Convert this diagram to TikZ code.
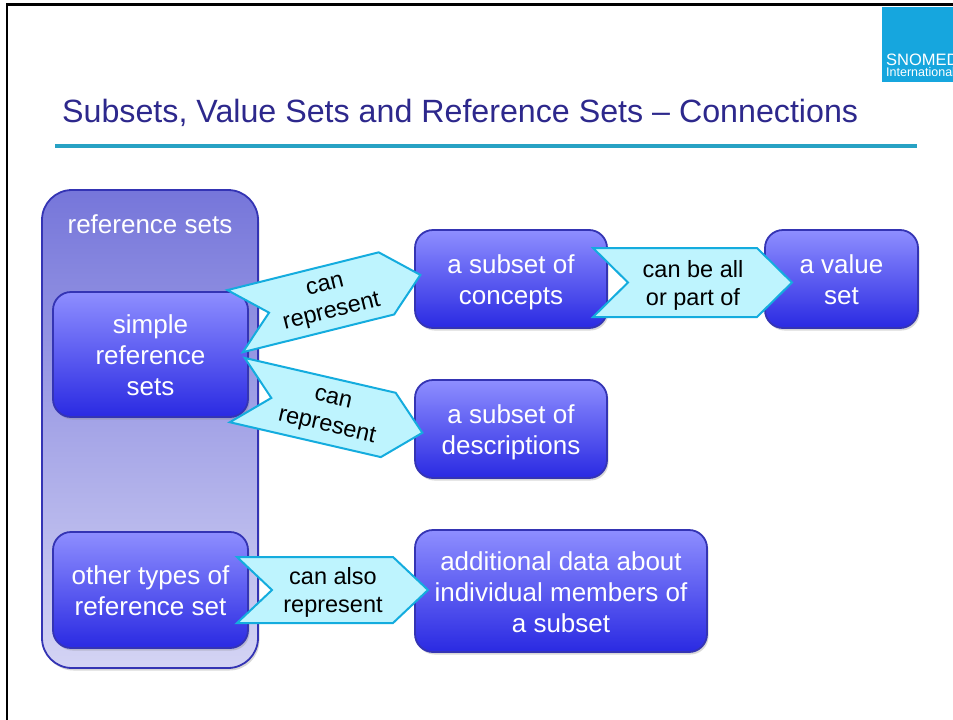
\documentclass[tikz,border=0pt]{standalone}
\usepackage{fontspec}
\setmainfont{Liberation Sans}
\usetikzlibrary{shadows}
\definecolor{titleblue}{RGB}{45,40,140}
\definecolor{rulecol}{RGB}{40,162,196}
\definecolor{logocol}{RGB}{22,166,222}
\definecolor{boxtop}{RGB}{142,142,255}
\definecolor{boxbot}{RGB}{42,42,226}
\definecolor{boxline}{RGB}{52,52,180}
\definecolor{outtop}{RGB}{118,118,218}
\definecolor{outbot}{RGB}{212,212,244}
\definecolor{chevfill}{RGB}{190,244,254}
\definecolor{chevline}{RGB}{20,172,222}
\tikzset{
  boxbase/.style={draw=boxline, line width=1.8pt, inner sep=0pt,
    drop shadow={opacity=0.3, shadow xshift=1.5pt, shadow yshift=-2.5pt}},
  box/.style={boxbase, rounded corners=18pt, top color=boxtop, bottom color=boxbot,
    text=white, font=\fontsize{26}{31}\selectfont},
  outerbox/.style={boxbase, rounded corners=30pt, top color=outtop, bottom color=outbot},
  chevshape/.style={draw=chevline, fill=chevfill, line width=2pt, line join=miter},
  chevtext/.style={align=center, font=\fontsize{23.5}{28}\selectfont, inner sep=0pt},
}
% centred lines of box text, lowered a little inside the box
\newcommand{\boxtext}[1]{\raisebox{-4pt}[\height][\depth]{\begin{tabular}{@{}c@{}}#1\end{tabular}}}
% name, cx, cy (pixel, y down), angle, width, height, text
\newcommand{\chevron}[7]{%
  \begin{scope}[shift={(#2,-#3)}, rotate=#4]
    \draw[chevshape] (-#5/2,#6/2) -- (-#5/2+35,0) -- (-#5/2,-#6/2) -- (#5/2,-#6/2)
      -- (#5/2+35,0) -- (#5/2,#6/2) -- cycle;
    \node[chevtext, rotate=#4] (#1) at (18,-2.5) {#7};
  \end{scope}}
\begin{document}
\begin{tikzpicture}[x=1pt, y=1pt]
\useasboundingbox (0,0) rectangle (953,-720);
\fill[white] (0,0) rectangle (953,-720);
% slide frame
\draw[line width=2.5pt] (7,-725) -- (7,-4.5) -- (960,-4.5);
% logo
\begin{scope}
  \clip (0,0) rectangle (953,-720);
  \fill[logocol] (882,-7) rectangle (965,-82);
  \node[anchor=base west, inner sep=0pt, text=white, font=\fontsize{16.5}{18}\selectfont] (logo1) at (886,-65) {SNOMED};
  \node[anchor=base west, inner sep=0pt, text=white, font=\fontsize{12.5}{13}\selectfont] (logo2) at (886,-76) {International};
\end{scope}
% title
\node[anchor=base west, inner sep=0pt, text=titleblue, font=\fontsize{32.2}{36}\selectfont] (title) at (62,-122) {Subsets, Value Sets and Reference Sets – Connections};
\draw[rulecol, line width=4pt] (55,-146) -- (917,-146);
% boxes
\node[outerbox, minimum width=216pt, minimum height=478pt] (refsets) at (150,-429) {};
\node[text=white, font=\fontsize{26}{31}\selectfont, inner sep=0pt] (refsetslabel) at (150,-224) {reference sets};
\node[box, minimum width=195pt, minimum height=125pt] (simple) at (150.5,-354.5) {\boxtext{simple\\reference\\sets}};
\node[box, minimum width=195pt, minimum height=116pt] (other) at (150.5,-590) {\boxtext{other types of\\reference set}};
\node[box, minimum width=192pt, minimum height=98pt] (concepts) at (511,-279) {\boxtext{a subset of\\concepts}};
\node[box, minimum width=153pt, minimum height=98pt] (valueset) at (841.5,-279) {\boxtext{a value\\set}};
\node[box, minimum width=192pt, minimum height=98pt] (descr) at (511,-429) {\boxtext{a subset of\\descriptions}};
\node[box, minimum width=292pt, minimum height=122pt] (additional) at (561,-591) {\boxtext{additional data about\\individual members of\\a subset}};
% chevrons
\chevron{c1}{310.75}{302.25}{14}{156}{64}{can\\represent}
\chevron{c2}{312.75}{407.5}{-13}{155}{66}{can\\represent}
\chevron{c3}{315}{590}{0}{156}{66}{can also\\represent}
\chevron{c4}{675}{282.5}{0}{164}{69}{can be all\\or part of}
\end{tikzpicture}
\end{document}
